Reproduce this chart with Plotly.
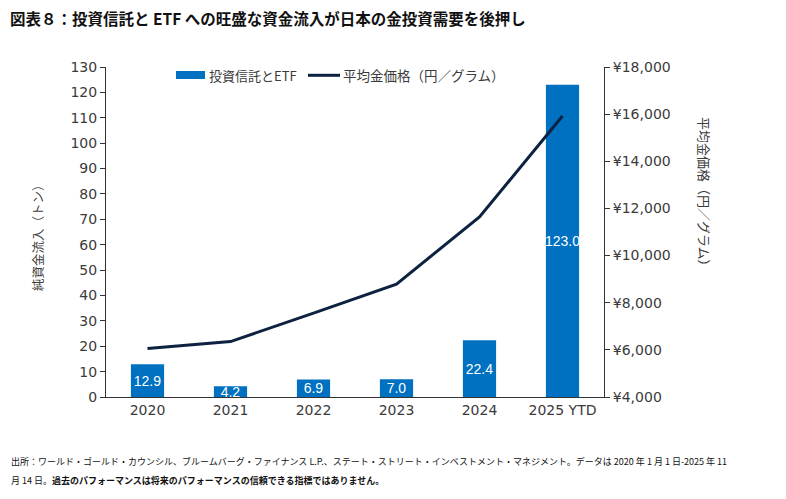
import plotly.graph_objects as go

categories = ["2020", "2021", "2022", "2023", "2024", "2025 YTD"]
flows_tonnes = [12.9, 4.2, 6.9, 7.0, 22.4, 123.0]
gold_price_yen = [6060, 6350, 7560, 8790, 11640, 15920]
left_ticks = list(range(0, 131, 10))
right_ticks = list(range(4000, 18001, 2000))
right_ticklabels = ["¥{:,}".format(v) for v in right_ticks]

FONT = "DejaVu Sans"
JP = "Noto Sans CJK JP"
TXT = "#3b3b3b"
BLUE = "#0070C0"
NAVY = "#0D2240"

# the page body adds an 8px margin; window-pixel helpers for the plot area (106..604, 67..397)
def px(X):
    return (X - 106) / 498

def py(Y):
    return (397 - Y) / 330

fig = go.Figure()
fig.add_trace(go.Bar(
    x=categories, y=flows_tonnes, name="投資信託とETF",
    marker=dict(color=BLUE, line=dict(width=0)),
    width=0.4,
    text=["{:.1f}".format(v) for v in flows_tonnes],
    textposition="inside", insidetextanchor="middle", textangle=0,
    textfont=dict(color="white", size=14, family="Liberation Sans"),
    constraintext="none", cliponaxis=False,
))
fig.add_trace(go.Scatter(
    x=categories, y=gold_price_yen, name="平均金価格（円／グラム）",
    mode="lines", line=dict(color=NAVY, width=3), yaxis="y2",
))

fig.update_layout(
    width=778, height=491,
    margin=dict(l=98, r=182, t=59, b=102),
    paper_bgcolor="white", plot_bgcolor="white",
    font=dict(family=FONT, size=14, color=TXT),
    uniformtext=dict(minsize=14, mode="show"),
    showlegend=False,
    xaxis=dict(showline=True, linecolor="#333333", linewidth=1, ticks="",
               tickfont=dict(family=FONT, size=14, color=TXT), showgrid=False),
    yaxis=dict(range=[0, 130], tickvals=left_ticks, showline=True, linecolor="#333333",
               linewidth=1, ticks="outside", ticklen=5, tickcolor="#333333",
               showgrid=False, zeroline=False,
               tickfont=dict(family=FONT, size=14, color=TXT)),
    yaxis2=dict(range=[4000, 18000], tickvals=right_ticks, ticktext=right_ticklabels,
                overlaying="y", side="right", showline=True, linecolor="#333333",
                linewidth=1, ticks="outside", ticklen=5, tickcolor="#333333",
                showgrid=False, zeroline=False,
                tickfont=dict(family=FONT, size=14, color=TXT)),
)

# manual legend
fig.add_shape(type="rect", xref="paper", yref="paper",
              x0=px(176), x1=px(205), y0=py(79), y1=py(71),
              fillcolor=BLUE, line=dict(width=0))
fig.add_shape(type="line", xref="paper", yref="paper",
              x0=px(308), x1=px(340), y0=py(75.3), y1=py(75.3),
              line=dict(color=NAVY, width=3))
fig.add_annotation(text="投資信託とETF", xref="paper", yref="paper", x=px(207), y=py(75),
                   xanchor="left", yanchor="middle", showarrow=False,
                   font=dict(family=JP, size=13, color=TXT))
fig.add_annotation(text="平均金価格（円／グラム）", xref="paper", yref="paper", x=px(341), y=py(75),
                   xanchor="left", yanchor="middle", showarrow=False,
                   font=dict(family=JP, size=13.5, color=TXT))

fig.add_annotation(text="<b>図表８：投資信託と ETF への旺盛な資金流入が日本の金投資需要を後押し</b>",
                   xref="paper", yref="paper", x=px(9), y=py(17.5), xanchor="left", yanchor="middle",
                   showarrow=False, borderpad=0, font=dict(family=JP, size=15.5, color="#111111"))
fig.add_annotation(text="純資金流入（トン）", textangle=-90,
                   xref="paper", yref="paper", x=px(38), y=py(235),
                   xanchor="center", yanchor="middle", showarrow=False,
                   font=dict(family=JP, size=12.5, color=TXT))
fig.add_annotation(text="平均金価格（円／グラム）", textangle=90,
                   xref="paper", yref="paper", x=px(705), y=py(195),
                   xanchor="center", yanchor="middle", showarrow=False,
                   font=dict(family=JP, size=13, color=TXT))
fig.add_annotation(
    text="出所：ワールド・ゴールド・カウンシル、ブルームバーグ・ファイナンス L.P.、ステート・ストリート・インベストメント・マネジメント。データは 2020 年 1 月 1 日-2025 年 11",
    xref="paper", yref="paper", x=px(9), y=py(461),
    xanchor="left", yanchor="middle", align="left", showarrow=False,
    font=dict(family=JP, size=9, color="#111111"))
fig.add_annotation(
    text="月 14 日。<b>過去のパフォーマンスは将来のパフォーマンスの信頼できる指標ではありません。</b>",
    xref="paper", yref="paper", x=px(9), y=py(481),
    xanchor="left", yanchor="middle", align="left", showarrow=False,
    font=dict(family=JP, size=9, color="#111111"))

fig.write_html("out.html")
